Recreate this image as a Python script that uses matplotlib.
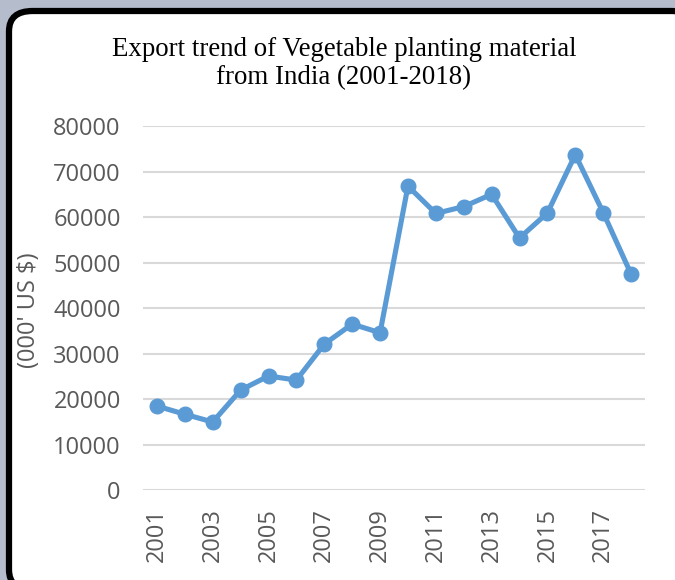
import numpy as np
import matplotlib.pyplot as plt
from matplotlib.patches import FancyBboxPatch

years = np.arange(2001, 2019)
exports = [18500, 16700, 15000, 22000, 25100, 24200, 32100, 36500, 34600,
           66800, 60800, 62300, 65000, 55400, 60900, 73700, 61000, 47500]
yticks = [0, 10000, 20000, 30000, 40000, 50000, 60000, 70000, 80000]
xticks = [2001, 2003, 2005, 2007, 2009, 2011, 2013, 2015, 2017]

W, H = 675, 580
fig = plt.figure(figsize=(W / 100, H / 100), dpi=100)
fig.patch.set_facecolor("#b5bdcc")

# rounded white card with black border
card = FancyBboxPatch((9 / W, -10 / H), (W + 20 - 9) / W, (H + 10 - 11) / H,
                      boxstyle="round,pad=0,rounding_size=0.035",
                      transform=fig.transFigure, facecolor="white",
                      edgecolor="black", linewidth=4.5, zorder=-5)
fig.patches.append(card)

ax = fig.add_axes([143 / W, 1 - 490.3 / H, (645 - 143) / W, (490.3 - 126) / H])
ax.set_zorder(2)
ax.set_facecolor("none")

ax.plot(years, exports, color="#5b9bd5", linewidth=3.7, marker="o",
        markersize=10.5, solid_capstyle="round", zorder=3)

ax.set_xlim(2000.5, 2018.5)
ax.set_ylim(0, 80000)
ax.set_yticks(yticks)
ax.set_xticks(xticks)
ax.set_xticklabels([str(x) for x in xticks], rotation=90)
ax.grid(axis="y", color="#d9d9d9", linewidth=1.5, zorder=0)
ax.set_axisbelow(True)
for s in ax.spines.values():
    s.set_visible(False)
ax.tick_params(length=0, labelsize=17, labelcolor="#595959")
ax.tick_params(axis="y", pad=16)
ax.tick_params(axis="x", pad=13)
for lbl in ax.get_xticklabels() + ax.get_yticklabels():
    lbl.set_fontfamily("Open Sans")

fig.text(29 / W, 1 - 310 / H, "(000' US $)", rotation=90, ha="center",
         va="center", fontsize=17, color="#595959", family="Open Sans")
fig.text(344 / W, 1 - 63.5 / H,
         "Export trend of Vegetable planting material\nfrom India (2001-2018)",
         ha="center", va="center", fontsize=19.4, family="Liberation Serif",
         color="black", linespacing=1.2)

fig.savefig("out.png", dpi=100, facecolor=fig.get_facecolor())
